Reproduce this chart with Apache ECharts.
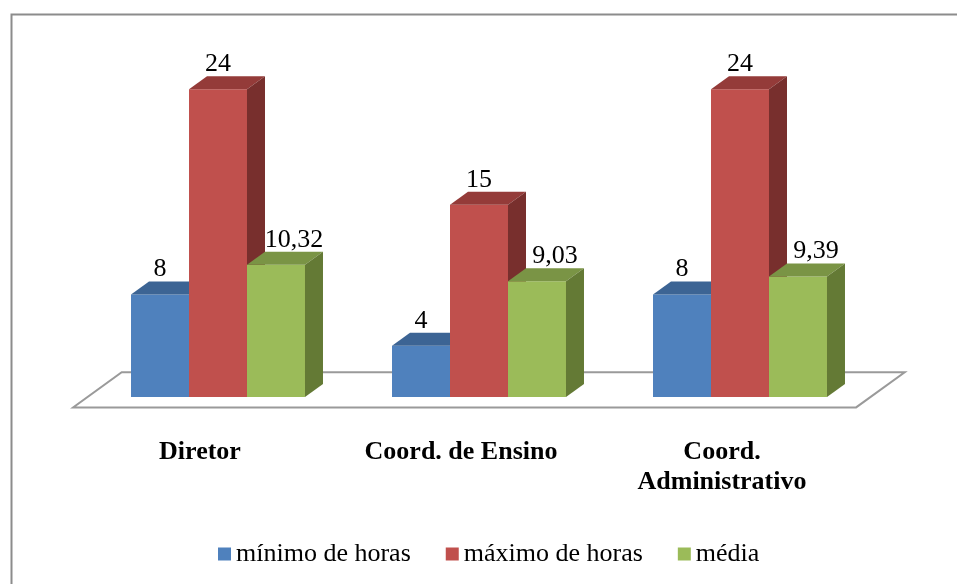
<!DOCTYPE html>
<html>
<head>
<meta charset="utf-8">
<script src="https://cdn.jsdelivr.net/npm/echarts@6/dist/echarts.min.js"></script>
<style>
html, body { margin: 0; padding: 0; background: #fff; }
#chart { width: 957px; height: 584px; }
</style>
</head>
<body>
<div id="chart"></div>
<script>
// dados
const categories = ['Diretor', 'Coord. de Ensino', 'Coord.\nAdministrativo']
const seriesNames = ['mínimo de horas', 'máximo de horas', 'média']
const minimo = [8, 4, 8]
const maximo = [24, 15, 24]
const media = [10.32, 9.03, 9.39]
const valueLabels = [['8', '4', '8'], ['24', '15', '24'], ['10,32', '9,03', '9,39']]

// cores: frente, topo, lado
const colors = [
    { front: '#4f81bd', top: '#3c6494', side: '#2f4f77' },
    { front: '#c0504d', top: '#943b39', side: '#782f2d' },
    { front: '#9bbb59', top: '#7a9445', side: '#647a35' }
]
const DX = 18, DY = 13   // profundidade das barras
const FONT = '"Liberation Serif", "Times New Roman", serif'
const labelShift = [0, 0, 18]

const chart = echarts.init(document.getElementById('chart'))

function bar3d (sIdx) {
    return function (params, api) {
        const idx = api.value(0)
        const val = api.value(1)
        const band = api.size([1, 0])[0]
        const bw = band * 0.2222
        const c = api.coord([idx, 0])
        const top = api.coord([idx, val])
        const x0 = c[0] + (sIdx - 1.5) * bw
        const x1 = x0 + bw
        const yb = c[1], yt = top[1]
        const col = colors[sIdx]
        return {
            type: 'group',
            children: [
                { type: 'rect', shape: { x: x0, y: yt, width: bw, height: yb - yt }, style: { fill: col.front } },
                { type: 'polygon', shape: { points: [[x0, yt], [x1, yt], [x1 + DX, yt - DY], [x0 + DX, yt - DY]] }, style: { fill: col.top } },
                { type: 'polygon', shape: { points: [[x1, yt], [x1 + DX, yt - DY], [x1 + DX, yb - DY], [x1, yb]] }, style: { fill: col.side } },
                {
                    type: 'text',
                    style: {
                        text: valueLabels[sIdx][idx],
                        x: x0 + bw / 2 + labelShift[sIdx],
                        y: yt - DY + 1,
                        align: 'center',
                        verticalAlign: 'bottom',
                        font: '26px ' + FONT,
                        fill: '#000'
                    }
                }
            ]
        }
    }
}

// plano do chao
function floor (params, api) {
    const cs = params.coordSys
    const yb = cs.y + cs.height
    const xl = cs.x, xr = cs.x + cs.width
    const f = 0.8, b = 1.9
    return {
        type: 'polygon',
        shape: { points: [
            [xl - DX * f, yb + DY * f], [xr - DX * f, yb + DY * f],
            [xr + DX * b, yb - DY * b], [xl + DX * b, yb - DY * b]
        ] },
        style: { fill: '#fff', stroke: '#9a9a9a', lineWidth: 2 }
    }
}

const allValues = [minimo, maximo, media]

const option = {
    animation: false,
    graphic: [{
        type: 'rect', left: 9, top: 12,
        shape: { width: 1000, height: 620 },
        style: { fill: 'none', stroke: '#8c8c8c', lineWidth: 2 }
    }],
    grid: { left: 87.5, right: 86.5, top: 38, bottom: 187 },
    legend: {
        data: seriesNames,
        left: 213, top: 536,
        icon: 'rect', itemWidth: 13, itemHeight: 13, itemGap: 35,
        textStyle: { fontFamily: FONT, fontSize: 26, color: '#000' }
    },
    xAxis: {
        type: 'category',
        data: categories,
        axisLine: { show: false },
        axisTick: { show: false },
        axisLabel: {
            margin: 40, interval: 0,
            fontFamily: FONT, fontSize: 26, fontWeight: 'bold', color: '#000',
            lineHeight: 30, padding: [0, 36, 0, 0]
        }
    },
    yAxis: { type: 'value', min: 0, max: 28, show: false },
    series: [{
        type: 'custom', name: 'chao', renderItem: floor, data: [0], silent: true, z: 1
    }].concat(allValues.map((vals, i) => ({
        type: 'custom',
        name: seriesNames[i],
        itemStyle: { color: colors[i].front },
        renderItem: bar3d(i),
        encode: { x: 0, y: 1 },
        data: vals.map((v, k) => [k, v]),
        z: 2
    })))
}
chart.setOption(option)
</script>
</body>
</html>
